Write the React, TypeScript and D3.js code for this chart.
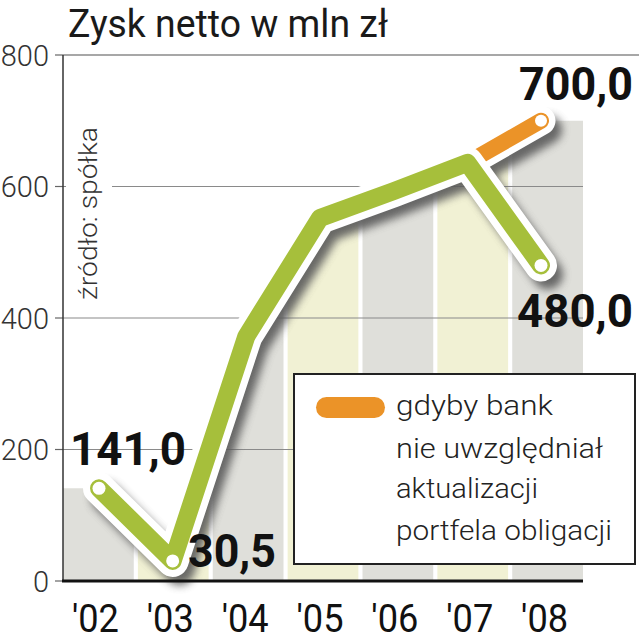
import React from "react";
import * as d3 from "d3";

const years = ["'02", "'03", "'04", "'05", "'06", "'07", "'08"];
const profit = [141.0, 30.5, 372, 552, 593, 636, 480.0];
const barValues = [141.0, 30.5, 372, 552, 593, 636, 700.0];
const altFrom = 636;
const altValue = 700.0;
const yTicks = [0, 200, 400, 600, 800];
const pointLabels = ["141,0", "30,5", "", "", "", "", "480,0"];
const altLabel = "700,0";
const legendLines = ["gdyby bank", "nie uwzględniał", "aktualizacji", "portfela obligacji"];
const title = "Zysk netto w mln zł";
const source = "źródło: spółka";

const W = 639;
const H = 640;
const GREEN = "#a6bf3b";
const ORANGE = "#eb9328";
const BAR_COLORS = ["#dfdfda", "#f1f1d4"];

export default function App() {
  const x = d3.scaleBand<string>().domain(years).range([63, 583]).paddingInner(0.055).paddingOuter(0);
  const xp = d3.scalePoint<string>().domain(years).range([99, 541]);
  const y = d3.scaleLinear().domain([0, 800]).range([581, 55]);

  const line = d3
    .line<number>()
    .x((_, i) => xp(years[i]) as number)
    .y((d) => y(d));
  const mainPath = line(profit) || "";
  const altPath =
    d3.line<[string, number]>().x((d) => xp(d[0]) as number).y((d) => y(d[1]))([
      [years[5], altFrom],
      [years[6], altValue],
    ]) || "";

  // clip region: area below the (upper) line, extended flat at both ends
  const clipPts: [number, number][] = [
    [63, barValues[0]],
    ...barValues.map((v, i) => [xp(years[i]) as number, v] as [number, number]),
    [583, barValues[barValues.length - 1]],
  ];
  const clipArea =
    d3
      .area<[number, number]>()
      .x((d) => d[0])
      .y0(y(0))
      .y1((d) => y(d[1]))(clipPts) || "";

  const font = "Roboto, 'Liberation Sans', sans-serif";

  const labelPos: Record<number, { x: number; y: number; len: number }> = {
    0: { x: 70, y: 465, len: 116 },
    1: { x: 188, y: 567, len: 88 },
    6: { x: 517, y: 327, len: 116 },
  };

  return (
    <svg width={W} height={H} style={{ position: "absolute", left: 0, top: 0 }}>
      <defs>
        <filter id="sh" x="-20%" y="-20%" width="140%" height="140%">
          <feGaussianBlur stdDeviation="4" />
        </filter>
        <clipPath id="barclip">
          <path d={clipArea} />
        </clipPath>
      </defs>
      <rect x={0} y={0} width={W} height={H} fill="#ffffff" />

      {/* bars */}
      <g clipPath="url(#barclip)">
        {years.map((yr, i) => (
          <rect
            key={yr}
            x={x(yr)}
            y={y(800)}
            width={x.bandwidth()}
            height={y(0) - y(800)}
            fill={BAR_COLORS[i % 2]}
          />
        ))}
      </g>

      {/* grid */}
      {yTicks.filter((t) => t > 0 && t < 800).map((t) => (
        <line key={t} x1={63} x2={583} y1={y(t)} y2={y(t)} stroke="#8a8a8a" strokeWidth={1.2} />
      ))}
      <line x1={63} x2={639} y1={y(800)} y2={y(800)} stroke="#8a8a8a" strokeWidth={1.5} />
      {yTicks.map((t) => (
        <line key={"tk" + t} x1={55} x2={63} y1={y(t)} y2={y(t)} stroke="#666" strokeWidth={1.2} />
      ))}
      <line x1={63} x2={63} y1={y(800)} y2={y(0)} stroke="#333" strokeWidth={1.5} />

      {/* y labels */}
      {yTicks.map((t) => (
        <text
          key={"yl" + t}
          x={49}
          y={y(t) + 10.5}
          textAnchor="end"
          fontFamily={font}
          fontWeight={300}
          fontSize={29}
          fill="#333"
        >
          {t}
        </text>
      ))}

      {/* source */}
      <rect x={66} y={122} width={46} height={183} fill="#ffffff" />
      <text
        transform="translate(97,300) rotate(-90)"
        fontFamily={font}
        fontWeight={300}
        fontSize={25}
        fill="#333"
        textLength={173}
        lengthAdjust="spacingAndGlyphs"
      >
        {source}
      </text>

      {/* legend */}
      <rect x={294} y={374} width={341} height={190} fill="#ffffff" stroke="#222" strokeWidth={2} />
      <rect x={316} y={397} width={69} height={21} rx={10.5} fill={ORANGE} />
      {legendLines.map((l, i) => (
        <text
          key={l}
          x={396}
          y={[415, 458, 498, 540][i]}
          fontFamily={font}
          fontWeight={300}
          fontSize={28}
          fill="#222"
          textLength={[157, 207, 142, 216][i]}
          lengthAdjust="spacingAndGlyphs"
        >
          {l}
        </text>
      ))}

      {/* shadows */}
      <g filter="url(#sh)" opacity={0.9} transform="translate(7,9)">
        <path d={altPath} fill="none" stroke="#5a5a5a" strokeWidth={28} strokeLinecap="round" strokeLinejoin="round" />
        <path d={mainPath} fill="none" stroke="#5a5a5a" strokeWidth={30} strokeLinecap="round" strokeLinejoin="round" />
      </g>

      {/* alt line */}
      <path d={altPath} fill="none" stroke="#fff" strokeWidth={29} strokeLinecap="round" strokeLinejoin="round" />
      <path d={altPath} fill="none" stroke={ORANGE} strokeWidth={16} strokeLinecap="round" strokeLinejoin="round" />
      <circle cx={xp(years[6])} cy={y(altValue)} r={6} fill="#fff" />

      {/* main line */}
      <path d={mainPath} fill="none" stroke="#fff" strokeWidth={32} strokeLinecap="round" strokeLinejoin="round" />
      <path d={mainPath} fill="none" stroke={GREEN} strokeWidth={18} strokeLinecap="round" strokeLinejoin="round" />
      {[0, 1, 6].map((i) => (
        <circle key={"c" + i} cx={xp(years[i])} cy={y(profit[i])} r={6.5} fill="#fff" />
      ))}

      {/* baseline */}
      <line x1={62} x2={583} y1={y(0)} y2={y(0)} stroke="#111" strokeWidth={3} />

      {/* x labels */}
      {years.map((yr) => (
        <text
          key={"xl" + yr}
          x={(x(yr) as number) + x.bandwidth() / 2 - 3}
          y={632}
          textAnchor="middle"
          fontFamily={font}
          fontSize={38}
          fill="#111"
          textLength={47}
          lengthAdjust="spacingAndGlyphs"
        >
          {yr}
        </text>
      ))}

      {/* data labels */}
      {Object.keys(labelPos).map((k) => {
        const i = +k;
        const p = labelPos[i];
        return (
          <text
            key={"dl" + i}
            x={p.x}
            y={p.y}
            fontFamily={font}
            fontWeight={700}
            fontSize={47}
            fill="#111"
            textLength={p.len}
            lengthAdjust="spacingAndGlyphs"
          >
            {pointLabels[i]}
          </text>
        );
      })}
      <text
        x={519}
        y={100}
        fontFamily={font}
        fontWeight={700}
        fontSize={47}
        fill="#111"
        textLength={114}
        lengthAdjust="spacingAndGlyphs"
      >
        {altLabel}
      </text>

      {/* title */}
      <text
        x={68}
        y={37}
        fontFamily={font}
        fontWeight={400}
        fontSize={39}
        fill="#1a1a1a"
        textLength={320}
        lengthAdjust="spacingAndGlyphs"
      >
        {title}
      </text>
    </svg>
  );
}
